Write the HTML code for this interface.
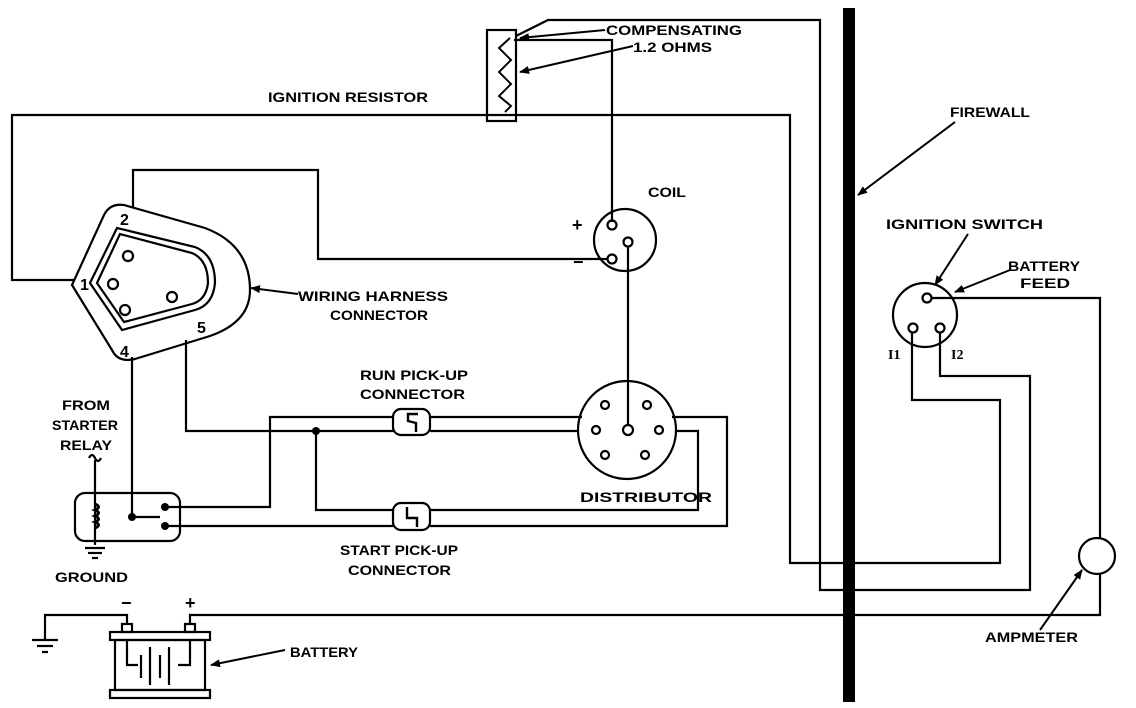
<!DOCTYPE html>
<html><head><meta charset="utf-8"><style>
html,body{margin:0;padding:0;background:#fff;}
svg{display:block;}
text{font-family:"Liberation Sans",sans-serif;font-weight:bold;font-size:14px;fill:#000;}
</style></head><body>
<svg width="1136" height="708" viewBox="0 0 1136 708" xmlns="http://www.w3.org/2000/svg">
<defs><marker id="a" markerWidth="10" markerHeight="8" refX="9" refY="4" orient="auto" markerUnits="userSpaceOnUse"><path d="M0,0 L10,4 L0,8 z" fill="#000"/></marker></defs>
<g fill="none" stroke="#000" stroke-width="2.2">
<rect x="843" y="8" width="12" height="694" fill="#000" stroke="none"/>
<rect x="487" y="30" width="29" height="91"/>
<polyline points="510,38 499,48 511,60 499,72 511,84 499,96 511,106 505,112" stroke-width="2"/>
<polyline points="516,36 548,20 820,20 820,590 1030,590 1030,376 940,376 940,332"/>
<polyline points="514,40 612,40 612,222"/>
<polyline points="75,280 12,280 12,115 790,115 790,563 1000,563 1000,400 912,400 912,332"/>
<circle cx="625" cy="240" r="31"/>
<circle cx="612" cy="225" r="4.5"/><circle cx="628" cy="242" r="4.5"/><circle cx="612" cy="259" r="4.5"/>
<polyline points="607,259 318,259 318,170 133,170 133,208"/>
<line x1="628" y1="247" x2="628" y2="425"/>
<circle cx="627" cy="430" r="49"/>
<circle cx="605" cy="405" r="4"/><circle cx="647" cy="405" r="4"/><circle cx="596" cy="430" r="4"/><circle cx="628" cy="430" r="5"/><circle cx="659" cy="430" r="4"/><circle cx="605" cy="455" r="4"/><circle cx="645" cy="455" r="4"/>
<path d="M72,285 L104,215 Q110,203 124,205 L205,228 Q250,245 250,290 Q250,322 210,336 L135,359 Q118,363 112,350 Z"/>
<path d="M90,283 L117,228 L195,247 Q215,255 215,283 Q213,305 195,310 L122,330 Z"/>
<path d="M97,283 L120,234 L192,253 Q208,260 208,283 Q206,300 192,304 L124,322 Z"/>
<circle cx="128" cy="256" r="5"/><circle cx="113" cy="284" r="5"/><circle cx="125" cy="310" r="5"/><circle cx="172" cy="297" r="5"/>
<polyline points="132,357 132,517"/>
<polyline points="186,340 186,431 393,431"/>
<line x1="430" y1="431" x2="578" y2="431"/>
<polyline points="165,507 270,507 270,417 393,417"/>
<line x1="430" y1="417" x2="582" y2="417"/>
<polyline points="316,431 316,510 393,510"/>
<polyline points="430,510 698,510 698,431 676,431"/>
<polyline points="165,526 393,526"/>
<polyline points="430,526 727,526 727,417 672,417"/>
<rect x="393" y="409" width="37" height="26" rx="8"/>
<polyline points="418,414 408,414 408,421 416,423 416,432" stroke-width="2.4"/>
<rect x="393" y="503" width="37" height="27" rx="8"/>
<polyline points="407,507 407,518 417,518 417,527" stroke-width="2.4"/>
<rect x="75" y="493" width="105" height="48" rx="10"/>
<polyline points="95,460 95,545"/>
<path d="M89,458 Q92,452 95,458 Q98,464 101,458"/>
<path d="M95,504 q7,3 0,6 q7,3 0,6 q7,3 0,6 q7,3 0,6" stroke-width="3"/>
<line x1="132" y1="517" x2="160" y2="517"/>
<line x1="85" y1="548" x2="105" y2="548"/><line x1="88" y1="553" x2="102" y2="553"/><line x1="92" y1="558" x2="98" y2="558"/>
<polyline points="45,640 45,615 127,615 127,625"/>
<line x1="32" y1="640" x2="58" y2="640"/><line x1="37" y1="646" x2="53" y2="646"/><line x1="42" y1="652" x2="48" y2="652"/>
<polyline points="190,625 190,615 1100,615 1100,574"/>
<rect x="122" y="624" width="10" height="8"/><rect x="185" y="624" width="10" height="8"/>
<rect x="110" y="632" width="100" height="8"/>
<rect x="115" y="640" width="90" height="50"/>
<rect x="110" y="690" width="100" height="8"/>
<polyline points="127,640 127,665 138,665"/><polyline points="190,640 190,665 178,665"/>
<line x1="141" y1="655" x2="141" y2="678"/><line x1="150" y1="647" x2="150" y2="685"/><line x1="160" y1="655" x2="160" y2="678"/><line x1="169" y1="647" x2="169" y2="685"/>
<circle cx="925" cy="315" r="32"/>
<circle cx="927" cy="298" r="4.5"/><circle cx="913" cy="328" r="4.5"/><circle cx="940" cy="328" r="4.5"/>
<polyline points="932,298 1100,298 1100,538"/>
<circle cx="1097" cy="556" r="18"/>
</g>
<g fill="#000"><circle cx="316" cy="431" r="4"/><circle cx="132" cy="517" r="4"/><circle cx="165" cy="507" r="4"/><circle cx="165" cy="526" r="4"/></g>
<g stroke="#000" stroke-width="2" fill="none" marker-end="url(#a)">
<line x1="605" y1="30" x2="520" y2="38"/>
<line x1="633" y1="46" x2="520" y2="72"/>
<line x1="955" y1="122" x2="858" y2="195"/>
<line x1="968" y1="234" x2="935" y2="285"/>
<line x1="1010" y1="270" x2="955" y2="292"/>
<line x1="1040" y1="630" x2="1082" y2="570"/>
<line x1="298" y1="294" x2="251" y2="288"/>
<line x1="285" y1="650" x2="211" y2="665"/>
</g>
<text x="606" y="35" textLength="136" lengthAdjust="spacingAndGlyphs">COMPENSATING</text>
<text x="633" y="52" textLength="79" lengthAdjust="spacingAndGlyphs">1.2 OHMS</text>
<text x="268" y="102" textLength="160" lengthAdjust="spacingAndGlyphs">IGNITION RESISTOR</text>
<text x="648" y="197" textLength="38" lengthAdjust="spacingAndGlyphs">COIL</text>
<text x="572" y="231" style="font-size:18px">+</text>
<text x="573" y="268" style="font-size:18px">−</text>
<text x="950" y="117" textLength="80" lengthAdjust="spacingAndGlyphs">FIREWALL</text>
<text x="886" y="229" textLength="157" lengthAdjust="spacingAndGlyphs">IGNITION  SWITCH</text>
<text x="1008" y="271" textLength="72" lengthAdjust="spacingAndGlyphs">BATTERY</text>
<text x="1020" y="288" textLength="50" lengthAdjust="spacingAndGlyphs">FEED</text>
<text x="888" y="359" style="font-family:'Liberation Serif',serif">I1</text>
<text x="951" y="359" style="font-family:'Liberation Serif',serif">I2</text>
<text x="985" y="642" textLength="93" lengthAdjust="spacingAndGlyphs">AMPMETER</text>
<text x="298" y="301" textLength="150" lengthAdjust="spacingAndGlyphs">WIRING HARNESS</text>
<text x="330" y="320" textLength="98" lengthAdjust="spacingAndGlyphs">CONNECTOR</text>
<text x="80" y="290" style="font-size:16px">1</text><text x="120" y="225" style="font-size:16px">2</text><text x="120" y="357" style="font-size:16px">4</text><text x="197" y="333" style="font-size:16px">5</text>
<text x="360" y="380" textLength="108" lengthAdjust="spacingAndGlyphs">RUN PICK-UP</text>
<text x="360" y="399" textLength="105" lengthAdjust="spacingAndGlyphs">CONNECTOR</text>
<text x="62" y="410" textLength="48" lengthAdjust="spacingAndGlyphs">FROM</text>
<text x="52" y="430" textLength="66" lengthAdjust="spacingAndGlyphs">STARTER</text>
<text x="60" y="450" textLength="52" lengthAdjust="spacingAndGlyphs">RELAY</text>
<text x="580" y="502" textLength="132" lengthAdjust="spacingAndGlyphs">DISTRIBUTOR</text>
<text x="340" y="555" textLength="118" lengthAdjust="spacingAndGlyphs">START PICK-UP</text>
<text x="348" y="575" textLength="103" lengthAdjust="spacingAndGlyphs">CONNECTOR</text>
<text x="55" y="582" textLength="73" lengthAdjust="spacingAndGlyphs">GROUND</text>
<text x="121" y="609" style="font-size:18px">−</text>
<text x="185" y="609" style="font-size:18px">+</text>
<text x="290" y="657" textLength="68" lengthAdjust="spacingAndGlyphs">BATTERY</text>
</svg>
</body></html>
